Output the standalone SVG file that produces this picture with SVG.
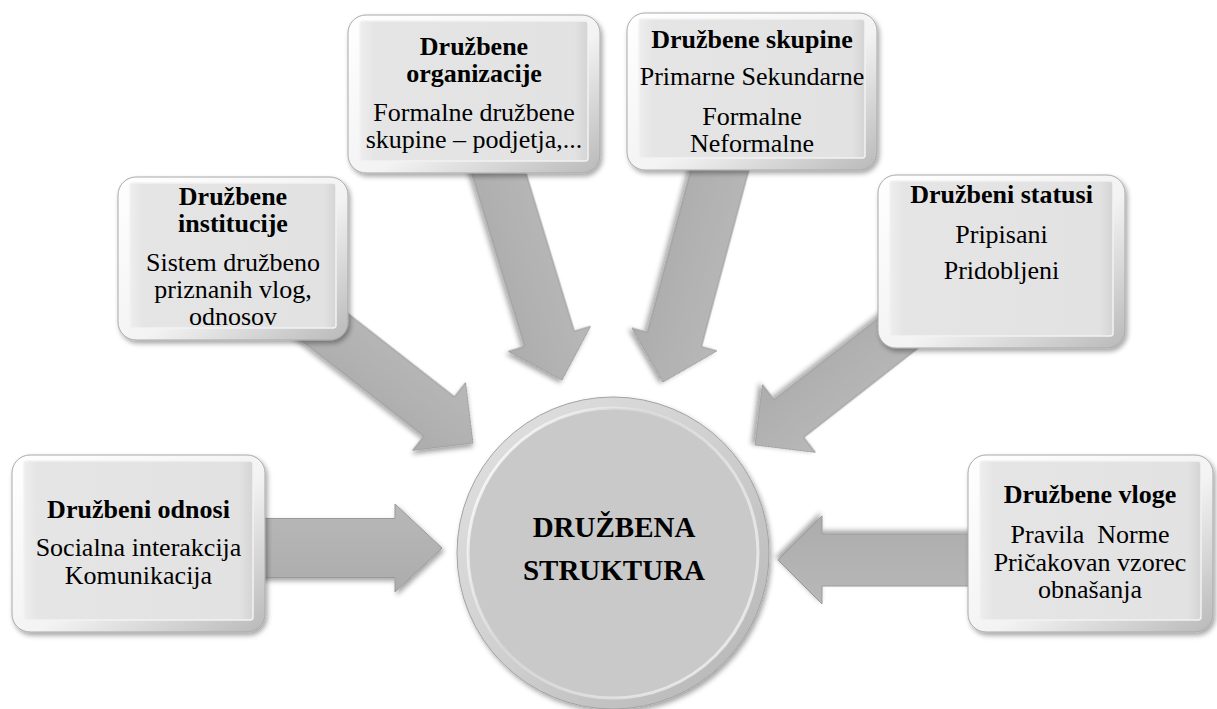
<svg xmlns="http://www.w3.org/2000/svg" width="1217" height="709" viewBox="0 0 1217 709">
<style>
  .rim { fill: url(#rimG); stroke: #a9a9a9; stroke-width: 1; filter: url(#sh); }
  .face { fill: url(#faceG); stroke: #f2f2f2; stroke-width: 1.5; }
  .arrow { fill: url(#arrG); stroke: #9a9a9a; stroke-width: 1; filter: url(#sh); }
  text { font-family: "Liberation Serif", "Times New Roman", serif; fill: #000; text-anchor: middle; }
  .t { font-size: 26px; font-weight: bold; }
  .b { font-size: 26px; }
  .c { font-size: 29px; font-weight: bold; }
</style>
<defs>
  <filter id="sh" x="-15%" y="-15%" width="135%" height="135%">
    <feDropShadow dx="2" dy="3" stdDeviation="2.5" flood-color="#000" flood-opacity="0.35"/>
  </filter>
  <linearGradient id="rimG" x1="0" y1="0" x2="1" y2="1">
    <stop offset="0" stop-color="#ffffff"/>
    <stop offset="0.55" stop-color="#f3f3f3"/>
    <stop offset="1" stop-color="#b9b9b9"/>
  </linearGradient>
  <linearGradient id="faceG" x1="0" y1="0" x2="1" y2="0">
    <stop offset="0" stop-color="#eeeeee"/>
    <stop offset="0.06" stop-color="#e5e5e5"/>
    <stop offset="0.94" stop-color="#e2e2e2"/>
    <stop offset="1" stop-color="#d4d4d4"/>
  </linearGradient>
  <linearGradient id="arrG" x1="0" y1="0" x2="0" y2="1">
    <stop offset="0" stop-color="#b8b8b8"/>
    <stop offset="1" stop-color="#acacac"/>
  </linearGradient>
  <linearGradient id="ringG" x1="0" y1="0" x2="1" y2="1">
    <stop offset="0" stop-color="#e2e2e2"/>
    <stop offset="0.5" stop-color="#cfcfcf"/>
    <stop offset="1" stop-color="#b3b3b3"/>
  </linearGradient>
  <linearGradient id="hlG" x1="0" y1="0" x2="1" y2="0.6">
    <stop offset="0" stop-color="#ffffff" stop-opacity="1"/>
    <stop offset="0.45" stop-color="#ffffff" stop-opacity="0.2"/>
    <stop offset="1" stop-color="#ffffff" stop-opacity="0.6"/>
  </linearGradient>
</defs>

<g id="connectors">
  <polygon class="arrow" transform="translate(442,548)" points="0,0 -47,-44 -47,-29.5 -192,-29.5 -192,29.5 -47,29.5 -47,44"/>
  <polygon class="arrow" transform="translate(473,443) rotate(38)" points="0,0 -43,-43 -43,-25 -215,-25 -215,25 -43,25 -43,43"/>
  <polygon class="arrow" transform="translate(562,380) rotate(73)" points="0,0 -43,-43 -43,-26 -235,-26 -235,26 -43,26 -43,43"/>
  <polygon class="arrow" transform="translate(663,382) rotate(105)" points="0,0 -44,-44 -44,-28 -235,-28 -235,28 -44,28 -44,44"/>
  <polygon class="arrow" transform="translate(755,445) rotate(142)" points="0,0 -43,-43 -43,-24 -195,-24 -195,24 -43,24 -43,43"/>
  <polygon class="arrow" transform="translate(778,560) rotate(180)" points="0,0 -44,-44 -44,-26 -200,-26 -200,26 -44,26 -44,44"/>
</g>

<g id="n-odnosi">
  <rect class="rim" x="12" y="455" width="253" height="177" rx="18"/>
  <rect class="face" x="24" y="461" width="229" height="159" rx="3"/>
  <text class="t" x="138.5" y="518">Družbeni odnosi</text>
  <text class="b" x="138.5" y="556">Socialna interakcija</text>
  <text class="b" x="138.5" y="584">Komunikacija</text>
</g>

<g id="n-institucije">
  <rect class="rim" x="118" y="177" width="230" height="163" rx="18"/>
  <rect class="face" x="130" y="183" width="206" height="145" rx="3"/>
  <text class="t" x="233" y="205">Družbene</text>
  <text class="t" x="233" y="232">institucije</text>
  <text class="b" x="233" y="271">Sistem družbeno</text>
  <text class="b" x="233" y="298">priznanih vlog,</text>
  <text class="b" x="233" y="325">odnosov</text>
</g>

<g id="n-organizacije">
  <rect class="rim" x="348" y="15" width="252" height="158" rx="18"/>
  <rect class="face" x="360" y="21" width="228" height="140" rx="3"/>
  <text class="t" x="474" y="55">Družbene</text>
  <text class="t" x="474" y="82">organizacije</text>
  <text class="b" x="474" y="121">Formalne družbene</text>
  <text class="b" x="474" y="148">skupine – podjetja,...</text>
</g>

<g id="n-skupine">
  <rect class="rim" x="627" y="13" width="250" height="157" rx="18"/>
  <rect class="face" x="639" y="19" width="226" height="139" rx="3"/>
  <text class="t" x="752" y="48">Družbene skupine</text>
  <text class="b" x="752" y="85">Primarne Sekundarne</text>
  <text class="b" x="752" y="125">Formalne</text>
  <text class="b" x="752" y="152">Neformalne</text>
</g>

<g id="n-statusi">
  <rect class="rim" x="878" y="175" width="247" height="173" rx="18"/>
  <rect class="face" x="890" y="181" width="223" height="155" rx="3"/>
  <text class="t" x="1001.5" y="203">Družbeni statusi</text>
  <text class="b" x="1001.5" y="243">Pripisani</text>
  <text class="b" x="1001.5" y="279">Pridobljeni</text>
</g>

<g id="n-vloge">
  <rect class="rim" x="968" y="455" width="245" height="177" rx="18"/>
  <rect class="face" x="980" y="461" width="221" height="159" rx="3"/>
  <text class="t" x="1090" y="503">Družbene vloge</text>
  <text class="b" x="1090" y="543" xml:space="preserve">Pravila  Norme</text>
  <text class="b" x="1090" y="571">Pričakovan vzorec</text>
  <text class="b" x="1090" y="598">obnašanja</text>
</g>

<g id="n-center">
  <circle cx="613" cy="553" r="156" fill="url(#ringG)" stroke="#a3a3a3" stroke-width="1" filter="url(#sh)"/>
  <circle cx="613" cy="553" r="145" fill="#c9c9c9" stroke="url(#hlG)" stroke-width="3"/>
  <text class="c" x="614" y="537">DRUŽBENA</text>
  <text class="c" x="614" y="580">STRUKTURA</text>
</g>
</svg>
